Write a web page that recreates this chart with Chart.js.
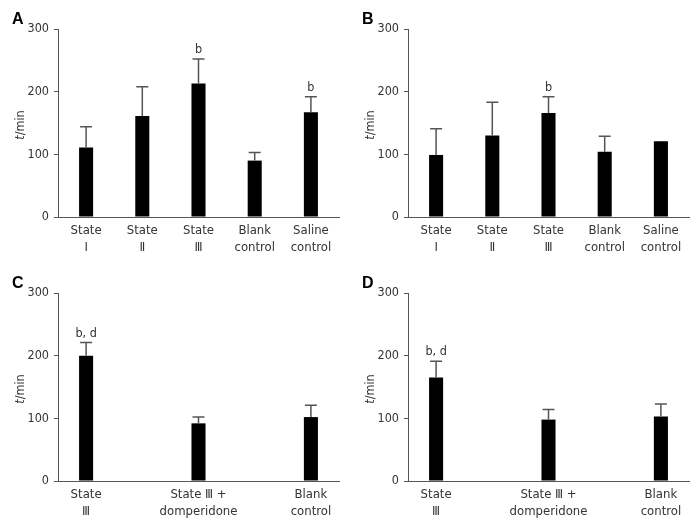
<!DOCTYPE html>
<html>
<head>
<meta charset="utf-8">
<script src="https://cdn.jsdelivr.net/npm/chart.js@4.4.1/dist/chart.umd.min.js"></script>
<style>
  html, body { margin: 0; padding: 0; background: #fff; }
  #wrap { position: relative; width: 700px; height: 525px; }
  .panel { position: absolute; }
</style>
</head>
<body>
<div id="wrap">
  <div class="panel" style="left:0;top:0;width:350px;height:262px"><canvas id="cA"></canvas></div>
  <div class="panel" style="left:350px;top:0;width:350px;height:262px"><canvas id="cB"></canvas></div>
  <div class="panel" style="left:0;top:262px;width:350px;height:263px"><canvas id="cC"></canvas></div>
  <div class="panel" style="left:350px;top:262px;width:350px;height:263px"><canvas id="cD"></canvas></div>
</div>
<script>
// ---- data ----
const categoriesAB = [['State', 'Ⅰ'], ['State', 'Ⅱ'], ['State', 'Ⅲ'], ['Blank', 'control'], ['Saline', 'control']];
const categoriesCD = [['State', 'Ⅲ'], ['State Ⅲ +', 'domperidone'], ['Blank', 'control']];
const yTicks = [0, 100, 200, 300];

const meanA = [111, 161, 213, 90, 167];
const errTopA = [144, 208, 252, 103, 192];
const markA = ['', '', 'b', '', 'b'];

const meanB = [99, 130, 166, 104, 121];
const errTopB = [141, 183, 192, 129, null];
const markB = ['', '', 'b', '', ''];

const meanC = [200, 92, 102];
const errTopC = [221, 102, 121];
const markC = ['b, d', '', ''];

const meanD = [165, 98, 103];
const errTopD = [191, 114, 123];
const markD = ['b, d', '', ''];

// ---- helpers ----
const SANS = "'DejaVu Sans Condensed', 'DejaVu Sans', sans-serif";
const AXIS = '#555';
const TXT = '#333';

// spread 3 categories over 5 evenly spaced slots (positions 0, 2, 4)
function spread(arr, fill) {
  const out = [];
  arr.forEach((v, i) => { if (i > 0) out.push(fill); out.push(v); });
  return out;
}

const errorPlugin = {
  id: 'errbars',
  afterDatasetsDraw(chart, args, opts) {
    const ctx = chart.ctx;
    const meta = chart.getDatasetMeta(0);
    const ys = chart.scales.y;
    ctx.save();
    meta.data.forEach((el, i) => {
      const top = opts.err[i];
      const v = chart.data.datasets[0].data[i];
      if (v == null) return;
      const yb = ys.getPixelForValue(v);
      let yTop = yb;
      if (top != null) {
        yTop = ys.getPixelForValue(top);
        ctx.strokeStyle = '#555';
        ctx.lineWidth = 1.5;
        ctx.beginPath();
        ctx.moveTo(el.x, yb);
        ctx.lineTo(el.x, yTop);
        ctx.moveTo(el.x - 6, yTop);
        ctx.lineTo(el.x + 6, yTop);
        ctx.stroke();
      }
      const m = opts.marks[i];
      if (m) {
        ctx.fillStyle = TXT;
        ctx.font = "12.5px " + SANS;
        ctx.textAlign = 'center';
        ctx.textBaseline = 'alphabetic';
        ctx.fillText(m, el.x, yTop - 6);
      }
    });
    ctx.restore();
  }
};

const decorPlugin = {
  id: 'decor',
  afterDraw(chart, args, opts) {
    const ctx = chart.ctx;
    const ca = chart.chartArea;
    ctx.save();
    // panel letter
    ctx.fillStyle = '#000';
    ctx.font = "bold 16px 'Liberation Sans', Arial, sans-serif";
    ctx.textAlign = 'left';
    ctx.textBaseline = 'alphabetic';
    ctx.fillText(opts.letter, 12, opts.letterY);
    // y title: italic t + /min
    ctx.translate(21, (ca.top + ca.bottom) / 2 + 2);
    ctx.rotate(-Math.PI / 2);
    ctx.textBaseline = 'middle';
    ctx.fillStyle = TXT;
    const fI = "italic 12.5px " + SANS;
    const fN = "12.5px " + SANS;
    ctx.font = fI;
    const w1 = ctx.measureText('t').width;
    ctx.font = fN;
    const w2 = ctx.measureText('/min').width;
    const x0 = -(w1 + w2) / 2;
    ctx.font = fI;
    ctx.textAlign = 'left';
    ctx.fillText('t', x0, 0);
    ctx.font = fN;
    ctx.fillText('/min', x0 + w1, 0);
    ctx.restore();
  }
};

function makeChart(id, labels, data, err, marks, letter, topPad, xH, letterY) {
  new Chart(document.getElementById(id), {
    type: 'bar',
    data: {
      labels: labels,
      datasets: [{
        data: data,
        backgroundColor: '#000',
        borderWidth: 0,
        categoryPercentage: 1,
        barPercentage: 0.25
      }]
    },
    options: {
      responsive: true,
      maintainAspectRatio: false,
      animation: false,
      events: [],
      layout: { padding: { left: 0, right: 11, top: topPad, bottom: 0 } },
      plugins: {
        legend: { display: false },
        tooltip: { enabled: false },
        errbars: { err: err, marks: marks },
        decor: { letter: letter, letterY: letterY }
      },
      scales: {
        x: {
          grid: { display: false, drawTicks: false },
          border: { display: true, color: AXIS, width: 1 },
          ticks: {
            color: TXT,
            padding: 5,
            maxRotation: 0,
            autoSkip: false,
            font: { family: SANS, size: 13, lineHeight: 1.3 }
          },
          afterFit(s) { s.height = xH; }
        },
        y: {
          min: 0, max: 300,
          afterBuildTicks(s) { s.ticks = yTicks.map(v => ({ value: v })); },
          grid: { display: true, drawOnChartArea: false, drawTicks: true, tickLength: 4, color: AXIS },
          border: { display: true, color: AXIS, width: 1 },
          ticks: {
            color: TXT,
            padding: 5,
            font: { family: SANS, size: 12.5 }
          },
          afterFit(s) { s.width = 58; }
        }
      }
    },
    plugins: [errorPlugin, decorPlugin]
  });
}

makeChart('cA', categoriesAB, meanA, errTopA, markA, 'A', 29, 45, 24);
makeChart('cB', categoriesAB, meanB, errTopB, markB, 'B', 29, 45, 24);
makeChart('cC', spread(categoriesCD, ''), spread(meanC, null), spread(errTopC, null), spread(markC, ''), 'C', 31, 44, 26);
makeChart('cD', spread(categoriesCD, ''), spread(meanD, null), spread(errTopD, null), spread(markD, ''), 'D', 31, 44, 26);
</script>
</body>
</html>
